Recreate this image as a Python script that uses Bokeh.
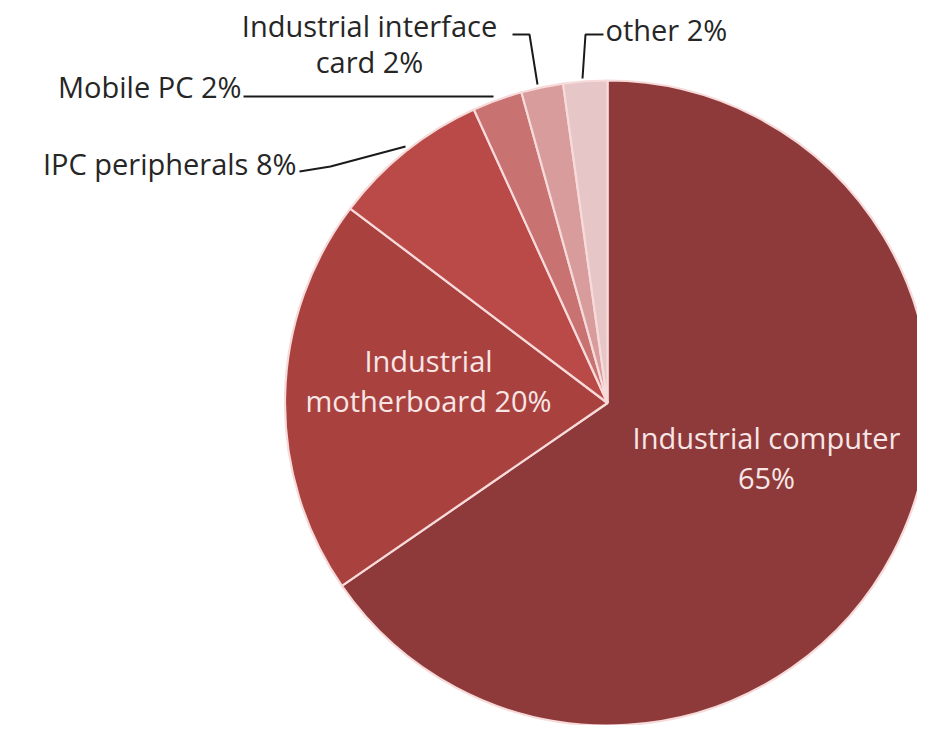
import math
from bokeh.plotting import figure
from bokeh.models import Range1d, ColumnDataSource
from bokeh.core.properties import value
from bokeh.embed import file_html
from bokeh.resources import INLINE

# data (clockwise from 12 o'clock)
categories = ["Industrial computer", "Industrial motherboard", "IPC peripherals",
              "Mobile PC", "Industrial interface card", "other"]
shares = [65.4, 19.9, 7.9, 2.5, 2.1, 2.2]
pct_labels = ["65%", "20%", "8%", "2%", "2%", "2%"]
colors = ["#8E3A3A", "#A9423F", "#BA4A47", "#C97272", "#D99C9C", "#E6C6C6"]

W, H = 917, 725
def Y(sy):  # screen y -> data y
    return 733 - sy

p = figure(width=W, height=H, output_backend="svg", toolbar_location=None,
           x_range=Range1d(0, W), y_range=Range1d(Y(H), Y(0)),
           min_border=0)
p.axis.visible = False
p.grid.visible = False
p.outline_line_color = None
p.background_fill_color = "white"

cx, cy, r = 607, Y(402.5), 322.5
total = sum(shares)
starts, ends = [], []
a = math.pi / 2
for s in shares:
    starts.append(a)
    a -= 2 * math.pi * s / total
    ends.append(a)

src = ColumnDataSource(dict(start=starts, end=ends, color=colors, cat=categories))
p.wedge(x=cx, y=cy, radius=r, start_angle="start", end_angle="end", direction="clock",
        fill_color="color", line_color="#F7DADA", line_width=2.2, source=src)

font = value("Open Sans")
dark = "#262626"
light = "#F8E6E6"
fs = "29px"

def txt(x, sy, t, color, align="center"):
    p.text(x=[x], y=[Y(sy)], text=[t], text_color=color, text_font=font,
           text_font_size=fs, text_align=align, text_baseline="middle")

# inside labels
txt(428, 360, "Industrial", light)
txt(428, 400, "motherboard " + pct_labels[1], light)
txt(766, 437, "Industrial computer", light)
txt(766, 477, pct_labels[0], light)

# outside labels
txt(296, 163, "IPC peripherals " + pct_labels[2], dark, "right")
txt(241, 86, "Mobile PC " + pct_labels[3], dark, "right")
txt(369, 25, "Industrial interface", dark)
txt(369, 61, "card " + pct_labels[4], dark)
txt(605, 29, "other " + pct_labels[5], dark, "left")

# leader lines
lc = "#1A1A1A"
p.line(x=[299, 330, 405], y=[Y(171), Y(166), Y(146)], line_color=lc, line_width=2)
p.line(x=[243, 493], y=[Y(96), Y(96)], line_color=lc, line_width=2)
p.line(x=[512, 529, 537], y=[Y(34), Y(34), Y(84)], line_color=lc, line_width=2)
p.line(x=[603, 585, 582], y=[Y(34), Y(34), Y(78)], line_color=lc, line_width=2)

open("out.html", "w").write(file_html(p, INLINE))
